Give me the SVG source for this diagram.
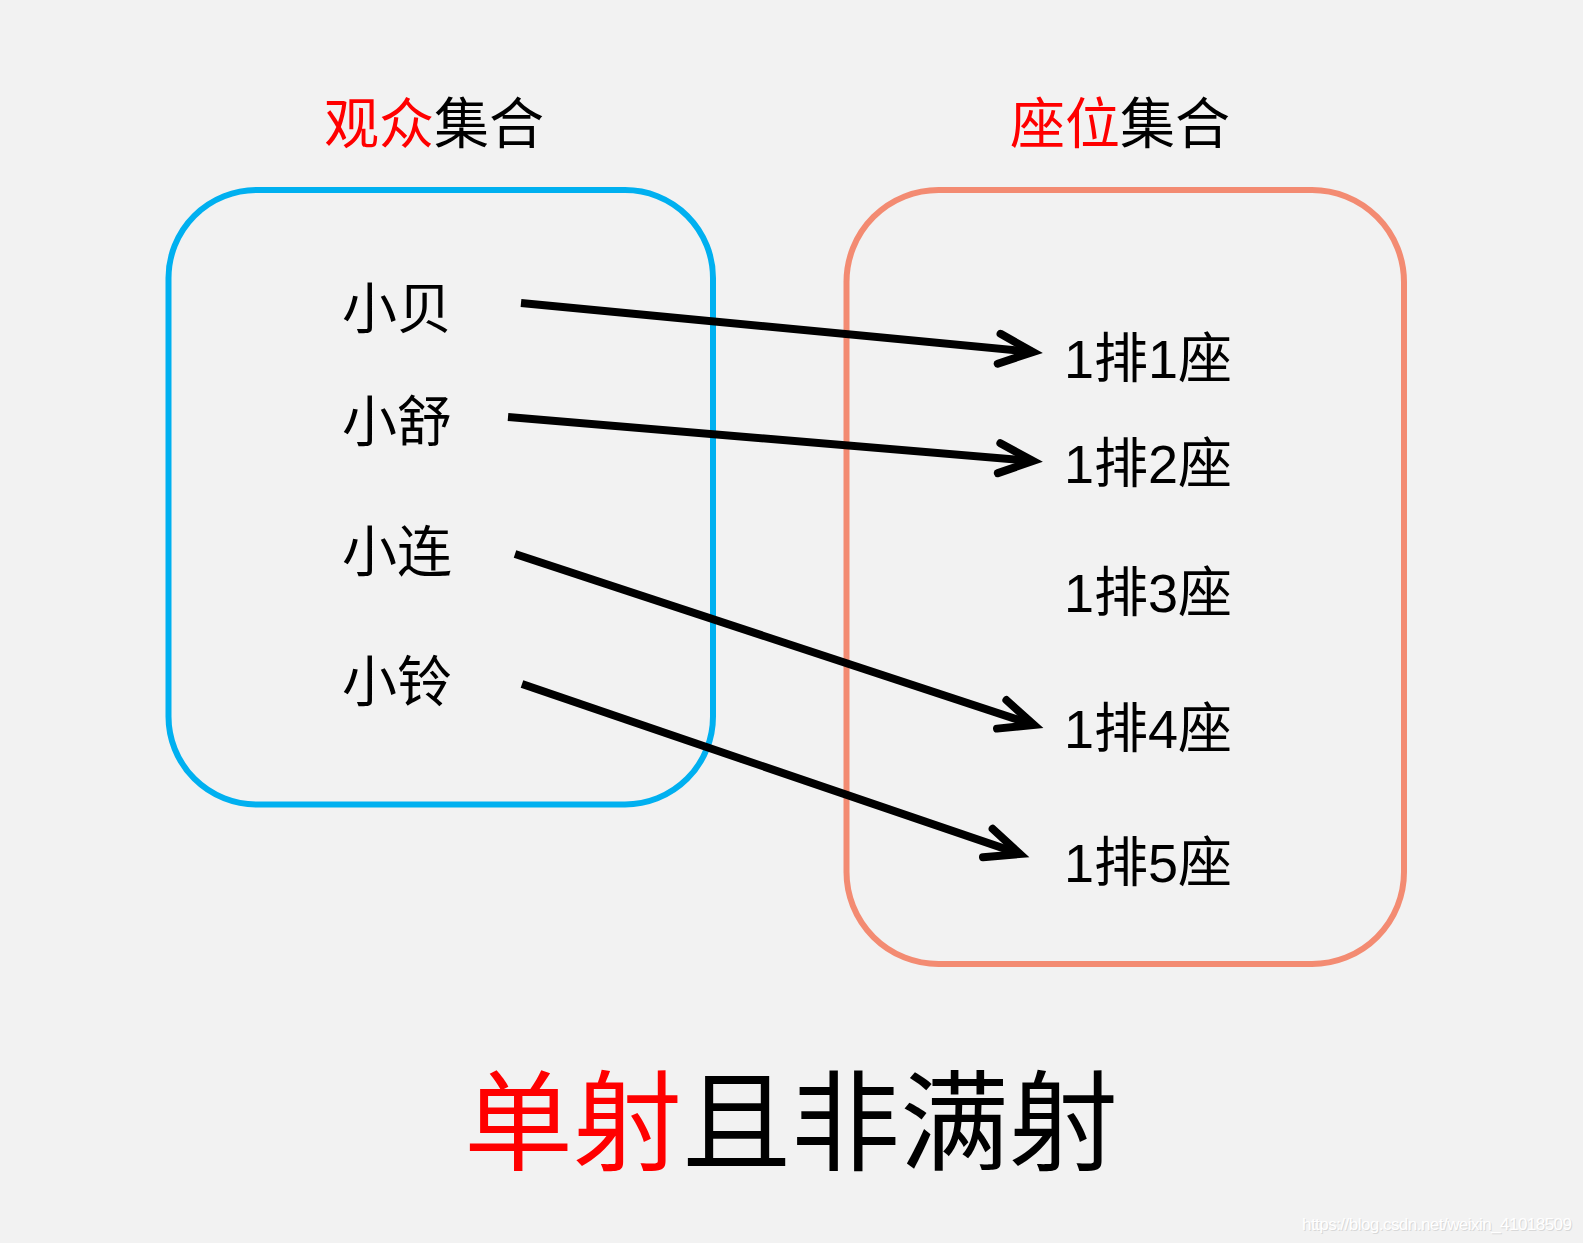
<svg xmlns="http://www.w3.org/2000/svg" width="1583" height="1243" viewBox="0 0 1583 1243">
<style>
.t{font-family:"Liberation Sans","Noto Sans CJK SC",sans-serif;fill:#000}
.r{fill:#ff0000}
.lbl{font-size:55px}
.seat{font-size:54px}
.title{font-size:109px}
.box{fill:none;stroke-width:6}
.arr{fill:none;stroke:#000;stroke-width:8;marker-end:url(#ah)}
.wm{font-family:"Liberation Sans",sans-serif;font-size:17px}
</style>
<defs>
<marker id="ah" markerUnits="userSpaceOnUse" markerWidth="60" markerHeight="60" refX="0" refY="0" viewBox="-45 -30 60 60" orient="auto" overflow="visible">
<path d="M-34,-15 L0,0 L-34,15" fill="none" stroke="#000" stroke-width="8" stroke-linecap="round" stroke-linejoin="miter"/>
</marker>
</defs>
<rect width="1583" height="1243" fill="#f2f2f2"/>
<g id="audience-set">
<rect class="box" x="168.5" y="190" width="544.5" height="614.5" rx="88" ry="88" stroke="#00b0f0"/>
<text class="t lbl" x="324" y="143"><tspan class="r">观众</tspan>集合</text>
</g>
<g id="seat-set">
<rect class="box" x="846.5" y="190" width="557.5" height="774" rx="92" ry="92" stroke="#f38b72"/>
<text class="t lbl" x="1010" y="143"><tspan class="r">座位</tspan>集合</text>
</g>
<g id="p1"><text class="t lbl" x="342" y="328">小贝</text></g>
<g id="p2"><text class="t lbl" x="342" y="441">小舒</text></g>
<g id="p3"><text class="t lbl" x="342" y="571">小连</text></g>
<g id="p4"><text class="t lbl" x="342" y="701">小铃</text></g>
<g id="s1"><text class="t seat" x="1064" y="378">1排1座</text></g>
<g id="s2"><text class="t seat" x="1064" y="483">1排2座</text></g>
<g id="s3"><text class="t seat" x="1064" y="612">1排3座</text></g>
<g id="s4"><text class="t seat" x="1064" y="748">1排4座</text></g>
<g id="s5"><text class="t seat" x="1064" y="882">1排5座</text></g>
<g id="connectors">
<line class="arr" x1="521" y1="303" x2="1033" y2="352"/>
<line class="arr" x1="508" y1="417" x2="1033" y2="461"/>
<line class="arr" x1="515" y1="554" x2="1034" y2="725"/>
<line class="arr" x1="522" y1="684" x2="1020" y2="854"/>
</g>
<g id="title">
<text class="t title" x="464" y="1162"><tspan class="r">单射</tspan>且非满射</text>
</g>
<text class="wm" x="1303" y="1231" fill="#d8d8d8" textLength="270">https://blog.csdn.net/weixin_41018509</text>
<text class="wm" x="1302" y="1230" fill="#ffffff" textLength="270">https://blog.csdn.net/weixin_41018509</text>
</svg>
